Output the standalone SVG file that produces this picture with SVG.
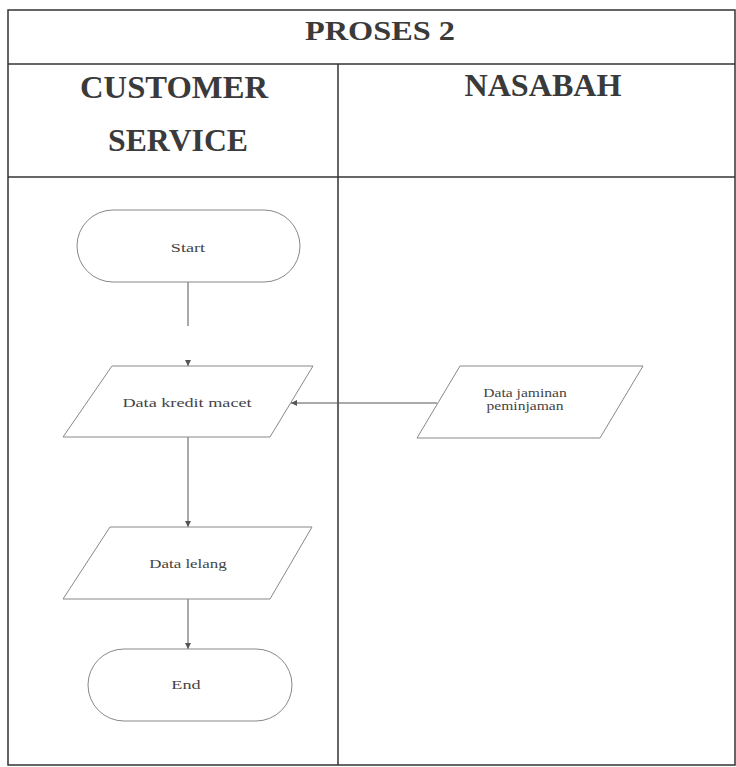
<svg xmlns="http://www.w3.org/2000/svg" width="736" height="767" viewBox="0 0 736 767">
<defs>
<style>
.frame{fill:none;stroke:#333;stroke-width:1.5}
.shape{fill:none;stroke:#888;stroke-width:1}
.conn{fill:none;stroke:#555;stroke-width:1}
.hdr{font-family:"Liberation Serif",serif;font-weight:bold;fill:#3a3a3a;text-anchor:middle}
.lbl{font-family:"Liberation Serif",serif;font-size:13px;fill:#444;text-anchor:middle}
</style>
<marker id="arr" markerWidth="8" markerHeight="8" refX="6" refY="3" orient="auto" markerUnits="userSpaceOnUse">
<path d="M0,0 L6,3 L0,6 Z" fill="#555"/>
</marker>
</defs>
<rect width="736" height="767" fill="#fff"/>
<g id="frame">
<rect class="frame" x="8" y="10" width="727" height="755"/>
<line class="frame" x1="8" y1="64" x2="735" y2="64"/>
<line class="frame" x1="8" y1="177" x2="735" y2="177"/>
<line class="frame" x1="338" y1="64" x2="338" y2="765"/>
<text class="hdr" x="380" y="40" font-size="27" textLength="150" lengthAdjust="spacingAndGlyphs">PROSES 2</text>
<text class="hdr" x="174" y="98" font-size="31" textLength="188" lengthAdjust="spacingAndGlyphs">CUSTOMER</text>
<text class="hdr" x="178" y="151" font-size="31" textLength="140" lengthAdjust="spacingAndGlyphs">SERVICE</text>
<text class="hdr" x="543" y="96" font-size="31" textLength="157" lengthAdjust="spacingAndGlyphs">NASABAH</text>
</g>
<g id="connectors">
<line class="conn" x1="188" y1="282" x2="188" y2="326"/>
<line class="conn" x1="188" y1="360" x2="188" y2="366" marker-end="url(#arr)"/>
<line class="conn" x1="437" y1="403" x2="291" y2="403" marker-end="url(#arr)"/>
<line class="conn" x1="188" y1="437" x2="188" y2="527" marker-end="url(#arr)"/>
<line class="conn" x1="188" y1="599" x2="188" y2="649" marker-end="url(#arr)"/>
</g>
<g id="start">
<rect class="shape" x="77" y="210" width="223" height="72" rx="36" ry="36"/>
<text class="lbl" transform="translate(188,252) scale(1.4,1)">Start</text>
</g>
<g id="data-kredit-macet">
<polygon class="shape" points="112,366 313,366 270,437 63,437"/>
<text class="lbl" transform="translate(187,407) scale(1.4,1)">Data kredit macet</text>
</g>
<g id="data-jaminan">
<polygon class="shape" points="460,366 643,366 600,438 417,438"/>
<text class="lbl" transform="translate(525,397) scale(1.2,1)">Data jaminan</text>
<text class="lbl" transform="translate(525,410) scale(1.2,1)">peminjaman</text>
</g>
<g id="data-lelang">
<polygon class="shape" points="110,527 312,527 270,599 63,599"/>
<text class="lbl" transform="translate(188,568) scale(1.3,1)">Data lelang</text>
</g>
<g id="end">
<rect class="shape" x="88" y="649" width="204" height="72" rx="36" ry="36"/>
<text class="lbl" transform="translate(186,689) scale(1.4,1)">End</text>
</g>
</svg>
